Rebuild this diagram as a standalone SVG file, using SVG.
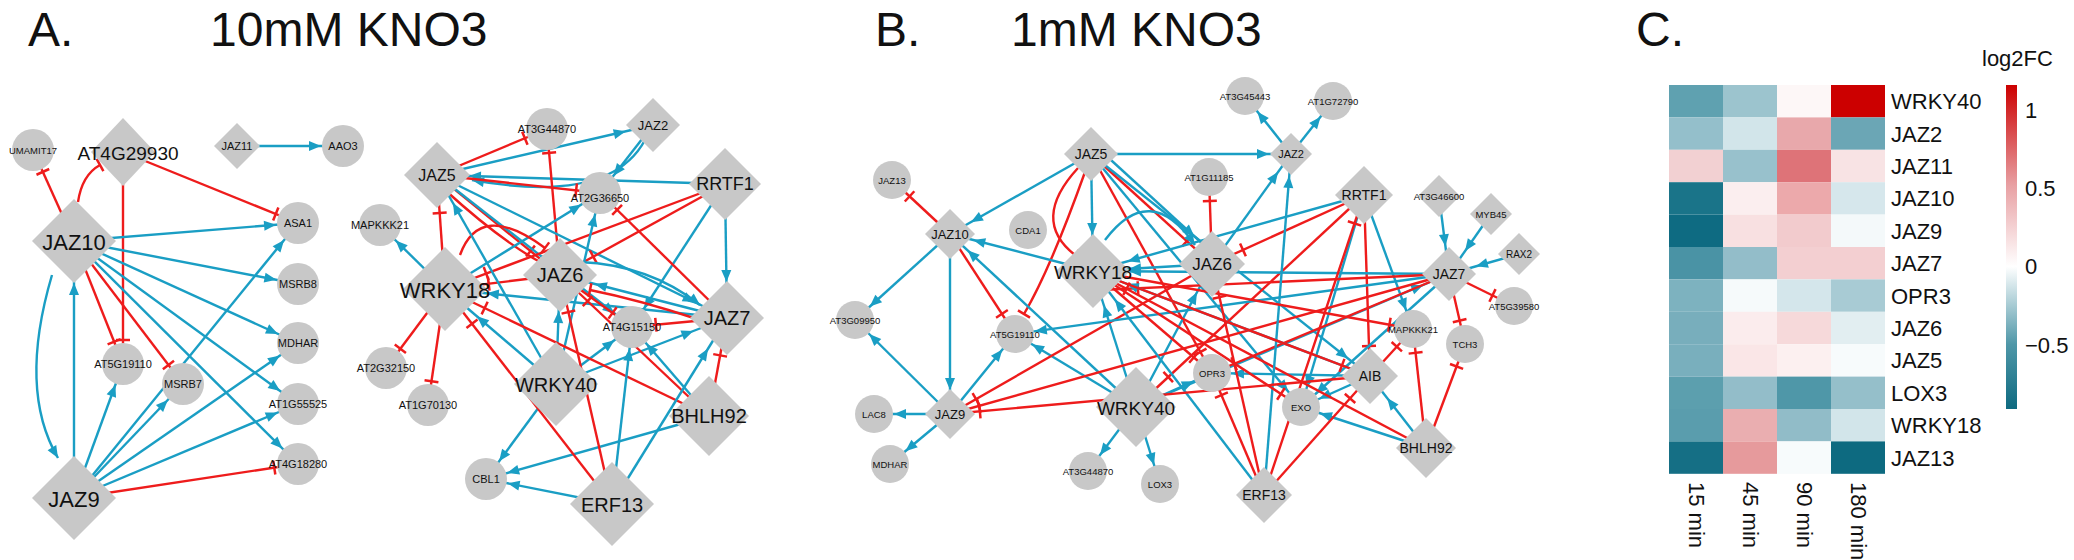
<svg xmlns="http://www.w3.org/2000/svg" width="2074" height="560" viewBox="0 0 2074 560">
<style>
text{font-family:"Liberation Sans",Arial,sans-serif;fill:#111;text-anchor:middle;dominant-baseline:central}
.t{font-size:48px;text-anchor:start;dominant-baseline:auto}
.n{fill:#c8c8c8}
.b{stroke:#1a9ec4;stroke-width:2.4;fill:none}
.r{stroke:#ee1c1c;stroke-width:2.4;fill:none}
.s{font-size:11px}
.xs{font-size:9.5px}
.hl{font-size:22px;text-anchor:start}
</style>
<defs>
<marker id="a0" markerUnits="userSpaceOnUse" markerWidth="14" markerHeight="12" orient="auto" overflow="visible" refX="12" refY="5"><path d="M0,0L12,5L0,10z" fill="#1a9ec4"/></marker>
<marker id="a20" markerUnits="userSpaceOnUse" markerWidth="14" markerHeight="12" orient="auto" overflow="visible" refX="32" refY="5"><path d="M0,0L12,5L0,10z" fill="#1a9ec4"/></marker>
<marker id="a22" markerUnits="userSpaceOnUse" markerWidth="14" markerHeight="12" orient="auto" overflow="visible" refX="34" refY="5"><path d="M0,0L12,5L0,10z" fill="#1a9ec4"/></marker>
<marker id="a24" markerUnits="userSpaceOnUse" markerWidth="14" markerHeight="12" orient="auto" overflow="visible" refX="36" refY="5"><path d="M0,0L12,5L0,10z" fill="#1a9ec4"/></marker>
<marker id="a28" markerUnits="userSpaceOnUse" markerWidth="14" markerHeight="12" orient="auto" overflow="visible" refX="40" refY="5"><path d="M0,0L12,5L0,10z" fill="#1a9ec4"/></marker>
<marker id="a32" markerUnits="userSpaceOnUse" markerWidth="14" markerHeight="12" orient="auto" overflow="visible" refX="44" refY="5"><path d="M0,0L12,5L0,10z" fill="#1a9ec4"/></marker>
<marker id="a36" markerUnits="userSpaceOnUse" markerWidth="14" markerHeight="12" orient="auto" overflow="visible" refX="48" refY="5"><path d="M0,0L12,5L0,10z" fill="#1a9ec4"/></marker>
<marker id="a42" markerUnits="userSpaceOnUse" markerWidth="14" markerHeight="12" orient="auto" overflow="visible" refX="54" refY="5"><path d="M0,0L12,5L0,10z" fill="#1a9ec4"/></marker>
<marker id="t0" markerUnits="userSpaceOnUse" markerWidth="4" markerHeight="14" orient="auto" overflow="visible" refX="0" refY="0"><path d="M0,-7V7" stroke="#ee1c1c" stroke-width="2.5"/></marker>
<marker id="t22" markerUnits="userSpaceOnUse" markerWidth="4" markerHeight="14" orient="auto" overflow="visible" refX="24" refY="0"><path d="M0,-7V7" stroke="#ee1c1c" stroke-width="2.5"/></marker>
<marker id="t28" markerUnits="userSpaceOnUse" markerWidth="4" markerHeight="14" orient="auto" overflow="visible" refX="30" refY="0"><path d="M0,-7V7" stroke="#ee1c1c" stroke-width="2.5"/></marker>
<marker id="t32" markerUnits="userSpaceOnUse" markerWidth="4" markerHeight="14" orient="auto" overflow="visible" refX="34" refY="0"><path d="M0,-7V7" stroke="#ee1c1c" stroke-width="2.5"/></marker>
<marker id="t36" markerUnits="userSpaceOnUse" markerWidth="4" markerHeight="14" orient="auto" overflow="visible" refX="38" refY="0"><path d="M0,-7V7" stroke="#ee1c1c" stroke-width="2.5"/></marker>
<marker id="t42" markerUnits="userSpaceOnUse" markerWidth="4" markerHeight="14" orient="auto" overflow="visible" refX="44" refY="0"><path d="M0,-7V7" stroke="#ee1c1c" stroke-width="2.5"/></marker>
<linearGradient id="cb" x1="0" y1="0" x2="0" y2="1">
<stop offset="0" stop-color="#cc0000"/><stop offset="0.31" stop-color="#e8a0a3"/><stop offset="0.56" stop-color="#ffffff"/><stop offset="0.8" stop-color="#4f97a8"/><stop offset="1" stop-color="#0e6a80"/>
</linearGradient>
</defs>

<text class="t" x="28" y="46">A.</text>
<text class="t" x="210" y="46">10mM KNO3</text>
<text class="t" x="875" y="46">B.</text>
<text class="t" x="1011" y="46">1mM KNO3</text>
<text class="t" x="1636" y="46">C.</text>

<g id="connectors">
<path class="r" d="M74,241L33,150" marker-end="url(#t22)"/>
<path class="r" d="M78,202Q82,175 100,165" marker-end="url(#t0)"/>
<path class="r" d="M123,152L123,364" marker-end="url(#t22)"/>
<path class="r" d="M123,152L298,223" marker-end="url(#t22)"/>
<path class="b" d="M74,241L298,223" marker-end="url(#a22)"/>
<path class="b" d="M74,241L298,284" marker-end="url(#a22)"/>
<path class="b" d="M74,241L298,343" marker-end="url(#a22)"/>
<path class="b" d="M74,241L298,404" marker-end="url(#a22)"/>
<path class="b" d="M74,241L298,464" marker-end="url(#a22)"/>
<path class="r" d="M74,241L123,364" marker-end="url(#t22)"/>
<path class="r" d="M74,241L183,384" marker-end="url(#t22)"/>
<path class="b" d="M52,275Q18,390 58,458" marker-end="url(#a0)"/>
<path class="b" d="M74,498L74,241" marker-end="url(#a42)"/>
<path class="b" d="M74,498L123,364" marker-end="url(#a22)"/>
<path class="b" d="M74,498L183,384" marker-end="url(#a22)"/>
<path class="b" d="M74,498L298,223" marker-end="url(#a22)"/>
<path class="b" d="M74,498L298,343" marker-end="url(#a22)"/>
<path class="b" d="M74,498L298,404" marker-end="url(#a22)"/>
<path class="r" d="M74,498L298,464" marker-end="url(#t22)"/>
<path class="b" d="M237,146L343,146" marker-end="url(#a22)"/>
<path class="b" d="M437,175L653,125" marker-end="url(#a28)"/>
<path class="r" d="M437,175L547,129" marker-end="url(#t22)"/>
<path class="b" d="M653,125L600,193" marker-end="url(#a22)"/>
<path class="b" d="M645,140Q610,205 472,180" marker-end="url(#a0)"/>
<path class="b" d="M725,184L437,175" marker-end="url(#a32)"/>
<path class="r" d="M560,275L547,129" marker-end="url(#t22)"/>
<path class="r" d="M437,175L600,193" marker-end="url(#t22)"/>
<path class="r" d="M437,175L560,275" marker-end="url(#t36)"/>
<path class="r" d="M445,190Q500,240 540,262" marker-end="url(#t0)"/>
<path class="b" d="M437,175L727,318" marker-end="url(#a36)"/>
<path class="b" d="M437,175L632,327" marker-end="url(#a22)"/>
<path class="r" d="M445,289L437,175" marker-end="url(#t36)"/>
<path class="b" d="M445,289L380,225" marker-end="url(#a22)"/>
<path class="r" d="M445,289L386,368" marker-end="url(#t22)"/>
<path class="r" d="M445,289L428,405" marker-end="url(#t22)"/>
<path class="b" d="M445,289L600,193" marker-end="url(#a22)"/>
<path class="r" d="M560,275L445,289" marker-end="url(#t42)"/>
<path class="r" d="M460,255Q480,200 545,248" marker-end="url(#t0)"/>
<path class="r" d="M725,184L445,289" marker-end="url(#t42)"/>
<path class="r" d="M725,184L560,275" marker-end="url(#t36)"/>
<path class="b" d="M725,184L727,318" marker-end="url(#a36)"/>
<path class="b" d="M725,184L632,327" marker-end="url(#a22)"/>
<path class="r" d="M727,318L600,193" marker-end="url(#t22)"/>
<path class="b" d="M727,318L560,275" marker-end="url(#a36)"/>
<path class="b" d="M727,318L445,289" marker-end="url(#a42)"/>
<path class="r" d="M727,318L632,327" marker-end="url(#t22)"/>
<path class="r" d="M700,320Q640,300 590,290" marker-end="url(#t0)"/>
<path class="b" d="M580,262Q650,265 700,305" marker-end="url(#a0)"/>
<path class="b" d="M556,384L445,289" marker-end="url(#a42)"/>
<path class="b" d="M556,384L437,175" marker-end="url(#a32)"/>
<path class="b" d="M556,384L560,275" marker-end="url(#a36)"/>
<path class="b" d="M556,384L600,193" marker-end="url(#a22)"/>
<path class="b" d="M556,384L632,327" marker-end="url(#a22)"/>
<path class="b" d="M556,384L727,318" marker-end="url(#a36)"/>
<path class="b" d="M556,384L486,479" marker-end="url(#a22)"/>
<path class="r" d="M709,416L727,318" marker-end="url(#t36)"/>
<path class="b" d="M709,416L632,327" marker-end="url(#a22)"/>
<path class="r" d="M709,416L445,289" marker-end="url(#t42)"/>
<path class="r" d="M709,416L560,275" marker-end="url(#t36)"/>
<path class="b" d="M709,416L486,479" marker-end="url(#a22)"/>
<path class="b" d="M612,504L486,479" marker-end="url(#a22)"/>
<path class="b" d="M612,504L632,327" marker-end="url(#a22)"/>
<path class="b" d="M612,504L727,318" marker-end="url(#a36)"/>
<path class="r" d="M612,504L445,289" marker-end="url(#t42)"/>
<path class="r" d="M612,504L560,275" marker-end="url(#t36)"/>
<path class="r" d="M560,275L632,327" marker-end="url(#t22)"/>
<path class="b" d="M1091,154L1291,154" marker-end="url(#a22)"/>
<path class="b" d="M1291,154L1245,96" marker-end="url(#a20)"/>
<path class="b" d="M1291,154L1333,101" marker-end="url(#a20)"/>
<path class="b" d="M1091,154L950,234" marker-end="url(#a24)"/>
<path class="b" d="M1091,154L1093,271" marker-end="url(#a36)"/>
<path class="r" d="M1085,172Q1050,270 1024,314" marker-end="url(#t0)"/>
<path class="r" d="M1078,168Q1030,220 1075,255" marker-end="url(#t0)"/>
<path class="r" d="M1091,154L1212,264" marker-end="url(#t32)"/>
<path class="b" d="M1100,150L1218,258" marker-end="url(#a32)"/>
<path class="r" d="M1091,154L1212,373" marker-end="url(#t22)"/>
<path class="b" d="M1091,154L1301,407" marker-end="url(#a20)"/>
<path class="b" d="M1091,154L1370,376" marker-end="url(#a28)"/>
<path class="r" d="M950,234L892,180" marker-end="url(#t22)"/>
<path class="b" d="M950,234L855,320" marker-end="url(#a20)"/>
<path class="b" d="M950,234L950,414" marker-end="url(#a24)"/>
<path class="r" d="M950,234L1015,334" marker-end="url(#t22)"/>
<path class="b" d="M950,414L855,320" marker-end="url(#a20)"/>
<path class="b" d="M950,414L874,414" marker-end="url(#a20)"/>
<path class="b" d="M950,414L890,464" marker-end="url(#a20)"/>
<path class="b" d="M950,414L1015,334" marker-end="url(#a20)"/>
<path class="b" d="M1093,271L950,234" marker-end="url(#a24)"/>
<path class="b" d="M1136,407L950,234" marker-end="url(#a24)"/>
<path class="b" d="M1136,407L1015,334" marker-end="url(#a20)"/>
<path class="b" d="M1136,407L1093,271" marker-end="url(#a36)"/>
<path class="b" d="M1136,407L1212,264" marker-end="url(#a32)"/>
<path class="b" d="M1136,407L1212,373" marker-end="url(#a20)"/>
<path class="b" d="M1136,407L1088,471" marker-end="url(#a20)"/>
<path class="b" d="M1136,407L1160,484" marker-end="url(#a20)"/>
<path class="b" d="M1136,407L1449,274" marker-end="url(#a28)"/>
<path class="b" d="M1105,240Q1150,180 1195,245" marker-end="url(#a0)"/>
<path class="r" d="M1212,264L1209,177" marker-end="url(#t22)"/>
<path class="b" d="M1212,264L1093,271" marker-end="url(#a36)"/>
<path class="r" d="M1212,264L950,414" marker-end="url(#t28)"/>
<path class="b" d="M1212,264L1291,154" marker-end="url(#a22)"/>
<path class="b" d="M1364,195L1093,271" marker-end="url(#a36)"/>
<path class="r" d="M1364,195L1136,407" marker-end="url(#t42)"/>
<path class="r" d="M1364,195L1370,376" marker-end="url(#t28)"/>
<path class="b" d="M1364,195L1413,329" marker-end="url(#a20)"/>
<path class="b" d="M1364,195L1301,407" marker-end="url(#a20)"/>
<path class="r" d="M1364,195L1212,264" marker-end="url(#t32)"/>
<path class="b" d="M1439,196L1449,274" marker-end="url(#a28)"/>
<path class="b" d="M1491,214L1449,274" marker-end="url(#a28)"/>
<path class="b" d="M1519,254L1449,274" marker-end="url(#a28)"/>
<path class="r" d="M1449,274L1514,306" marker-end="url(#t22)"/>
<path class="r" d="M1449,274L1465,344" marker-end="url(#t22)"/>
<path class="b" d="M1449,274L1093,271" marker-end="url(#a36)"/>
<path class="r" d="M1449,274L1100,290" marker-end="url(#t36)"/>
<path class="b" d="M1449,274L1015,334" marker-end="url(#a20)"/>
<path class="r" d="M1449,274L1212,373" marker-end="url(#t22)"/>
<path class="r" d="M1449,274L950,414" marker-end="url(#t28)"/>
<path class="b" d="M1449,274L1301,407" marker-end="url(#a20)"/>
<path class="r" d="M1370,376L1413,329" marker-end="url(#t22)"/>
<path class="b" d="M1370,376L1301,407" marker-end="url(#a20)"/>
<path class="b" d="M1370,376L1212,373" marker-end="url(#a20)"/>
<path class="b" d="M1370,376L1093,271" marker-end="url(#a36)"/>
<path class="b" d="M1426,448L1370,376" marker-end="url(#a28)"/>
<path class="r" d="M1426,448L1413,329" marker-end="url(#t22)"/>
<path class="r" d="M1426,448L1465,344" marker-end="url(#t22)"/>
<path class="b" d="M1426,448L1301,407" marker-end="url(#a20)"/>
<path class="r" d="M1426,448L1093,271" marker-end="url(#t36)"/>
<path class="b" d="M1264,495L1291,154" marker-end="url(#a22)"/>
<path class="r" d="M1264,495L1370,376" marker-end="url(#t28)"/>
<path class="b" d="M1264,495L1093,271" marker-end="url(#a36)"/>
<path class="r" d="M1264,495L1212,373" marker-end="url(#t22)"/>
<path class="r" d="M1264,495L1212,264" marker-end="url(#t32)"/>
<path class="r" d="M1264,495L1364,195" marker-end="url(#t28)"/>
<path class="r" d="M1093,271L1370,376" marker-end="url(#t28)"/>
<path class="r" d="M1093,271L1413,329" marker-end="url(#t22)"/>
<path class="r" d="M1093,271L1212,373" marker-end="url(#t22)"/>
<path class="r" d="M1093,271L1301,407" marker-end="url(#t22)"/>
<path class="r" d="M1370,376L950,414" marker-end="url(#t28)"/>
</g>

<g id="nodes-A">
<g id="A-UMAMIT17"><circle class="n" cx="33" cy="150" r="21"/><text class="xs" x="33" y="150">UMAMIT17</text></g>
<g id="A-AT4G29930"><path class="n" d="M123,118L155,152L123,186L91,152z"/><text x="128" y="153" style="font-size:19px">AT4G29930</text></g>
<g id="A-JAZ11"><path class="n" d="M237,123L260,146L237,169L214,146z"/><text class="s" x="237" y="146">JAZ11</text></g>
<g id="A-AAO3"><circle class="n" cx="343" cy="146" r="21"/><text class="s" x="343" y="146">AAO3</text></g>
<g id="A-JAZ10"><path class="n" d="M74,199L116,241L74,283L32,241z"/><text x="74" y="242" style="font-size:22px">JAZ10</text></g>
<g id="A-ASA1"><circle class="n" cx="298" cy="223" r="21"/><text class="s" x="298" y="223">ASA1</text></g>
<g id="A-MSRB8"><circle class="n" cx="298" cy="284" r="21"/><text class="s" x="298" y="284">MSRB8</text></g>
<g id="A-MDHAR"><circle class="n" cx="298" cy="343" r="21"/><text class="s" x="298" y="343">MDHAR</text></g>
<g id="A-AT1G55525"><circle class="n" cx="298" cy="404" r="21"/><text class="s" x="298" y="404">AT1G55525</text></g>
<g id="A-AT4G18280"><circle class="n" cx="298" cy="464" r="21"/><text class="s" x="298" y="464">AT4G18280</text></g>
<g id="A-AT5G19110"><circle class="n" cx="123" cy="364" r="21"/><text class="s" x="123" y="364">AT5G19110</text></g>
<g id="A-MSRB7"><circle class="n" cx="183" cy="384" r="21"/><text class="s" x="183" y="384">MSRB7</text></g>
<g id="A-JAZ9"><path class="n" d="M74,456L116,498L74,540L32,498z"/><text x="74" y="499" style="font-size:22px">JAZ9</text></g>
<g id="A-AT3G44870"><circle class="n" cx="547" cy="129" r="21"/><text class="s" x="547" y="129">AT3G44870</text></g>
<g id="A-JAZ2"><path class="n" d="M653,98L680,125L653,152L626,125z"/><text x="653" y="125" style="font-size:13px">JAZ2</text></g>
<g id="A-JAZ5"><path class="n" d="M437,142L470,175L437,208L404,175z"/><text x="437" y="175" style="font-size:16px">JAZ5</text></g>
<g id="A-AT2G36650"><circle class="n" cx="600" cy="193" r="21"/><text class="s" x="600" y="198">AT2G36650</text></g>
<g id="A-RRTF1"><path class="n" d="M725,148L761,184L725,220L689,184z"/><text x="725" y="184" style="font-size:18px">RRTF1</text></g>
<g id="A-MAPKKK21"><circle class="n" cx="380" cy="225" r="21"/><text class="s" x="380" y="225">MAPKKK21</text></g>
<g id="A-WRKY18"><path class="n" d="M445,247L487,289L445,331L403,289z"/><text x="445" y="290" style="font-size:22px">WRKY18</text></g>
<g id="A-JAZ6"><path class="n" d="M560,238L597,275L560,312L523,275z"/><text x="560" y="275" style="font-size:20px">JAZ6</text></g>
<g id="A-AT4G15150"><circle class="n" cx="632" cy="327" r="21"/><text class="s" x="632" y="327">AT4G15150</text></g>
<g id="A-JAZ7"><path class="n" d="M727,281L764,318L727,355L690,318z"/><text x="727" y="318" style="font-size:20px">JAZ7</text></g>
<g id="A-AT2G32150"><circle class="n" cx="386" cy="368" r="21"/><text class="s" x="386" y="368">AT2G32150</text></g>
<g id="A-AT1G70130"><circle class="n" cx="428" cy="405" r="21"/><text class="s" x="428" y="405">AT1G70130</text></g>
<g id="A-WRKY40"><path class="n" d="M556,342L598,384L556,426L514,384z"/><text x="556" y="385" style="font-size:20px">WRKY40</text></g>
<g id="A-BHLH92"><path class="n" d="M709,376L749,416L709,456L669,416z"/><text x="709" y="416" style="font-size:20px">BHLH92</text></g>
<g id="A-CBL1"><circle class="n" cx="486" cy="479" r="21"/><text class="s" x="486" y="479">CBL1</text></g>
<g id="A-ERF13"><path class="n" d="M612,462L654,504L612,546L570,504z"/><text x="612" y="505" style="font-size:20px">ERF13</text></g>
</g>

<g id="nodes-B">
<g id="B-AT3G45443"><circle class="n" cx="1245" cy="96" r="19"/><text class="xs" x="1245" y="96">AT3G45443</text></g>
<g id="B-AT1G72790"><circle class="n" cx="1333" cy="101" r="19"/><text class="xs" x="1333" y="101">AT1G72790</text></g>
<g id="B-JAZ2"><path class="n" d="M1291,133L1312,154L1291,175L1270,154z"/><text x="1291" y="154" style="font-size:11px">JAZ2</text></g>
<g id="B-JAZ5"><path class="n" d="M1091,127L1118,154L1091,181L1064,154z"/><text x="1091" y="154" style="font-size:14px">JAZ5</text></g>
<g id="B-JAZ13"><circle class="n" cx="892" cy="180" r="19"/><text class="xs" x="892" y="180">JAZ13</text></g>
<g id="B-AT1G11185"><circle class="n" cx="1209" cy="177" r="19"/><text class="xs" x="1209" y="177">AT1G11185</text></g>
<g id="B-CDA1"><circle class="n" cx="1028" cy="230" r="19"/><text class="xs" x="1028" y="230">CDA1</text></g>
<g id="B-JAZ10"><path class="n" d="M950,209L975,234L950,259L925,234z"/><text x="950" y="234" style="font-size:13px">JAZ10</text></g>
<g id="B-WRKY18"><path class="n" d="M1093,234L1130,271L1093,308L1056,271z"/><text x="1093" y="272" style="font-size:19px">WRKY18</text></g>
<g id="B-JAZ6"><path class="n" d="M1212,231L1245,264L1212,297L1179,264z"/><text x="1212" y="264" style="font-size:17px">JAZ6</text></g>
<g id="B-RRTF1"><path class="n" d="M1364,166L1393,195L1364,224L1335,195z"/><text x="1364" y="195" style="font-size:14px">RRTF1</text></g>
<g id="B-AT3G46600"><path class="n" d="M1439,175L1460,196L1439,217L1418,196z"/><text x="1439" y="196" style="font-size:9.5px">AT3G46600</text></g>
<g id="B-MYB45"><path class="n" d="M1491,193L1512,214L1491,235L1470,214z"/><text x="1491" y="214" style="font-size:9.5px">MYB45</text></g>
<g id="B-RAX2"><path class="n" d="M1519,233L1540,254L1519,275L1498,254z"/><text x="1519" y="254" style="font-size:10px">RAX2</text></g>
<g id="B-JAZ7"><path class="n" d="M1449,247L1476,274L1449,301L1422,274z"/><text x="1449" y="274" style="font-size:14px">JAZ7</text></g>
<g id="B-AT5G39580"><circle class="n" cx="1514" cy="306" r="19"/><text class="xs" x="1514" y="306">AT5G39580</text></g>
<g id="B-AT3G09950"><circle class="n" cx="855" cy="320" r="19"/><text class="xs" x="855" y="320">AT3G09950</text></g>
<g id="B-AT5G19110"><circle class="n" cx="1015" cy="334" r="19"/><text class="xs" x="1015" y="334">AT5G19110</text></g>
<g id="B-MAPKKK21"><circle class="n" cx="1413" cy="329" r="19"/><text class="xs" x="1413" y="329">MAPKKK21</text></g>
<g id="B-TCH3"><circle class="n" cx="1465" cy="344" r="19"/><text class="xs" x="1465" y="344">TCH3</text></g>
<g id="B-OPR3"><circle class="n" cx="1212" cy="373" r="19"/><text class="xs" x="1212" y="373">OPR3</text></g>
<g id="B-AIB"><path class="n" d="M1370,348L1398,376L1370,404L1342,376z"/><text x="1370" y="376" style="font-size:14px">AIB</text></g>
<g id="B-EXO"><circle class="n" cx="1301" cy="407" r="19"/><text class="xs" x="1301" y="407">EXO</text></g>
<g id="B-JAZ9"><path class="n" d="M950,389L975,414L950,439L925,414z"/><text x="950" y="414" style="font-size:13px">JAZ9</text></g>
<g id="B-LAC8"><circle class="n" cx="874" cy="414" r="19"/><text class="xs" x="874" y="414">LAC8</text></g>
<g id="B-WRKY40"><path class="n" d="M1136,367L1176,407L1136,447L1096,407z"/><text x="1136" y="408" style="font-size:19px">WRKY40</text></g>
<g id="B-BHLH92"><path class="n" d="M1426,418L1456,448L1426,478L1396,448z"/><text x="1426" y="448" style="font-size:14px">BHLH92</text></g>
<g id="B-MDHAR"><circle class="n" cx="890" cy="464" r="19"/><text class="xs" x="890" y="464">MDHAR</text></g>
<g id="B-AT3G44870"><circle class="n" cx="1088" cy="471" r="19"/><text class="xs" x="1088" y="471">AT3G44870</text></g>
<g id="B-LOX3"><circle class="n" cx="1160" cy="484" r="19"/><text class="xs" x="1160" y="484">LOX3</text></g>
<g id="B-ERF13"><path class="n" d="M1264,467L1292,495L1264,523L1236,495z"/><text x="1264" y="495" style="font-size:14px">ERF13</text></g>
</g>

<g id="heatmap">
<rect x="1669" y="85" width="54" height="32.4" fill="#5fa1b0"/><rect x="1723" y="85" width="54" height="32.4" fill="#9cc4ce"/><rect x="1777" y="85" width="54" height="32.4" fill="#fdf7f7"/><rect x="1831" y="85" width="54" height="32.4" fill="#cc0000"/>
<rect x="1669" y="117.4" width="54" height="32.4" fill="#94bfcb"/><rect x="1723" y="117.4" width="54" height="32.4" fill="#d2e5ea"/><rect x="1777" y="117.4" width="54" height="32.4" fill="#e8a8ab"/><rect x="1831" y="117.4" width="54" height="32.4" fill="#6ba6b5"/>
<rect x="1669" y="149.8" width="54" height="32.4" fill="#f2d0d2"/><rect x="1723" y="149.8" width="54" height="32.4" fill="#98c1cc"/><rect x="1777" y="149.8" width="54" height="32.4" fill="#de7378"/><rect x="1831" y="149.8" width="54" height="32.4" fill="#f8e3e4"/>
<rect x="1669" y="182.2" width="54" height="32.4" fill="#1a7489"/><rect x="1723" y="182.2" width="54" height="32.4" fill="#fbeeef"/><rect x="1777" y="182.2" width="54" height="32.4" fill="#eca9ab"/><rect x="1831" y="182.2" width="54" height="32.4" fill="#d6e7ec"/>
<rect x="1669" y="214.6" width="54" height="32.4" fill="#0e6b82"/><rect x="1723" y="214.6" width="54" height="32.4" fill="#f8e0e1"/><rect x="1777" y="214.6" width="54" height="32.4" fill="#f2cbcd"/><rect x="1831" y="214.6" width="54" height="32.4" fill="#f4f9fa"/>
<rect x="1669" y="247" width="54" height="32.4" fill="#4a93a5"/><rect x="1723" y="247" width="54" height="32.4" fill="#93bdc9"/><rect x="1777" y="247" width="54" height="32.4" fill="#f3cfd1"/><rect x="1831" y="247" width="54" height="32.4" fill="#f3cfd1"/>
<rect x="1669" y="279.4" width="54" height="32.4" fill="#7db2bf"/><rect x="1723" y="279.4" width="54" height="32.4" fill="#f6fafb"/><rect x="1777" y="279.4" width="54" height="32.4" fill="#d4e6eb"/><rect x="1831" y="279.4" width="54" height="32.4" fill="#a8cbd4"/>
<rect x="1669" y="311.8" width="54" height="32.4" fill="#78aebc"/><rect x="1723" y="311.8" width="54" height="32.4" fill="#fbeced"/><rect x="1777" y="311.8" width="54" height="32.4" fill="#f6d9da"/><rect x="1831" y="311.8" width="54" height="32.4" fill="#e2eef1"/>
<rect x="1669" y="344.2" width="54" height="32.4" fill="#79afbd"/><rect x="1723" y="344.2" width="54" height="32.4" fill="#fae6e7"/><rect x="1777" y="344.2" width="54" height="32.4" fill="#fcf0f0"/><rect x="1831" y="344.2" width="54" height="32.4" fill="#f7fbfc"/>
<rect x="1669" y="376.6" width="54" height="32.4" fill="#5c9fae"/><rect x="1723" y="376.6" width="54" height="32.4" fill="#93bdc9"/><rect x="1777" y="376.6" width="54" height="32.4" fill="#4f97a8"/><rect x="1831" y="376.6" width="54" height="32.4" fill="#95bfca"/>
<rect x="1669" y="409" width="54" height="32.4" fill="#5a9dad"/><rect x="1723" y="409" width="54" height="32.4" fill="#eaaeb0"/><rect x="1777" y="409" width="54" height="32.4" fill="#91bcc8"/><rect x="1831" y="409" width="54" height="32.4" fill="#d2e5ea"/>
<rect x="1669" y="441.4" width="54" height="32.4" fill="#156f85"/><rect x="1723" y="441.4" width="54" height="32.4" fill="#e69a9c"/><rect x="1777" y="441.4" width="54" height="32.4" fill="#f7fbfc"/><rect x="1831" y="441.4" width="54" height="32.4" fill="#0d6a80"/>
<text class="hl" x="1891" y="101">WRKY40</text><text class="hl" x="1891" y="134">JAZ2</text><text class="hl" x="1891" y="166">JAZ11</text><text class="hl" x="1891" y="198">JAZ10</text><text class="hl" x="1891" y="231">JAZ9</text><text class="hl" x="1891" y="263">JAZ7</text><text class="hl" x="1891" y="296">OPR3</text><text class="hl" x="1891" y="328">JAZ6</text><text class="hl" x="1891" y="360">JAZ5</text><text class="hl" x="1891" y="393">LOX3</text><text class="hl" x="1891" y="425">WRKY18</text><text class="hl" x="1891" y="458">JAZ13</text>
<text class="hl" transform="translate(1689,482) rotate(90)" x="0" y="0" style="dominant-baseline:auto">15 min</text>
<text class="hl" transform="translate(1743,482) rotate(90)" x="0" y="0" style="dominant-baseline:auto">45 min</text>
<text class="hl" transform="translate(1797,482) rotate(90)" x="0" y="0" style="dominant-baseline:auto">90 min</text>
<text class="hl" transform="translate(1851,482) rotate(90)" x="0" y="0" style="dominant-baseline:auto">180 min</text>
<text class="hl" x="1982" y="58">log2FC</text>
<rect x="2006" y="85" width="11" height="324" fill="url(#cb)"/>
<text class="hl" x="2025" y="110">1</text><text class="hl" x="2025" y="188">0.5</text><text class="hl" x="2025" y="266">0</text><text class="hl" x="2025" y="345">−0.5</text>
</g>
</svg>
